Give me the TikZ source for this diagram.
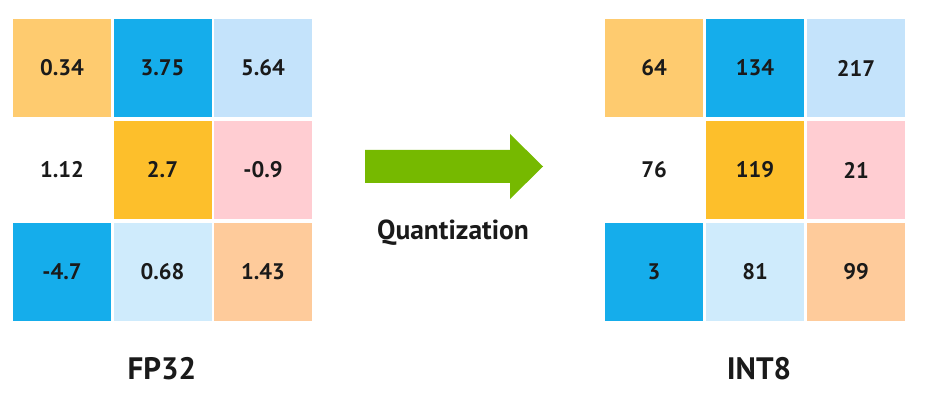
\documentclass[tikz,border=0pt]{standalone}
\usepackage{fontspec}
\setmainfont{PT Sans}
\definecolor{cOrange}{HTML}{FECB6F}
\definecolor{cBlue}{HTML}{15ADEB}
\definecolor{cLBlue}{HTML}{C4E3FB}
\definecolor{cGold}{HTML}{FDBF2B}
\definecolor{cPink}{HTML}{FFCDD2}
\definecolor{cLBlueB}{HTML}{CFEBFC}
\definecolor{cPeach}{HTML}{FECB9B}
\definecolor{cGreen}{HTML}{76B900}
\definecolor{cText}{HTML}{1A1A1A}
\begin{document}
\begin{tikzpicture}[x=1pt,y=-1pt,
  cell/.style={minimum width=98pt,minimum height=98pt,inner sep=0pt,text=cText,
    font=\bfseries\fontsize{22.5}{26}\selectfont},
  lbl/.style={text=cText,inner sep=0pt,font=\bfseries\fontsize{31}{36}\selectfont},
  qlbl/.style={text=cText,inner sep=0pt,font=\bfseries\fontsize{27.5}{32}\selectfont}]
\useasboundingbox[fill=white] (0,0) rectangle (934,406);
% left grid (FP32)
\node[cell,fill=cOrange] (L11) at (62,68) {0.34};
\node[cell,fill=cBlue]   (L12) at (162.5,68) {3.75};
\node[cell,fill=cLBlue]  (L13) at (263,68) {5.64};
\node[cell]              (L21) at (62,170) {1.12};
\node[cell,fill=cGold]   (L22) at (162.5,170) {2.7};
\node[cell,fill=cPink]   (L23) at (263,170) {-0.9};
\node[cell,fill=cBlue]   (L31) at (62,272) {-4.7};
\node[cell,fill=cLBlueB] (L32) at (162.5,272) {0.68};
\node[cell,fill=cPeach]  (L33) at (263,272) {1.43};
% right grid (INT8)
\node[cell,fill=cOrange] (R11) at (654,68) {64};
\node[cell,fill=cBlue]   (R12) at (755,68) {134};
\node[cell,fill=cLBlue]  (R13) at (856,68) {217};
\node[cell]              (R21) at (654,170) {76};
\node[cell,fill=cGold]   (R22) at (755,170) {119};
\node[cell,fill=cPink]   (R23) at (856,170) {21};
\node[cell,fill=cBlue]   (R31) at (654,272) {3};
\node[cell,fill=cLBlueB] (R32) at (755,272) {81};
\node[cell,fill=cPeach]  (R33) at (856,272) {99};
% arrow
\fill[cGreen] (365,150) -- (510,150) -- (510,134) -- (543,166.5) -- (510,199) -- (510,183) -- (365,183) -- cycle;
\node[qlbl] (q) at (453,233) {Quantization};
% labels
\node[lbl] (fp) at (162,369) {FP32};
\node[lbl] (int) at (759,369) {INT8};
\end{tikzpicture}
\end{document}
